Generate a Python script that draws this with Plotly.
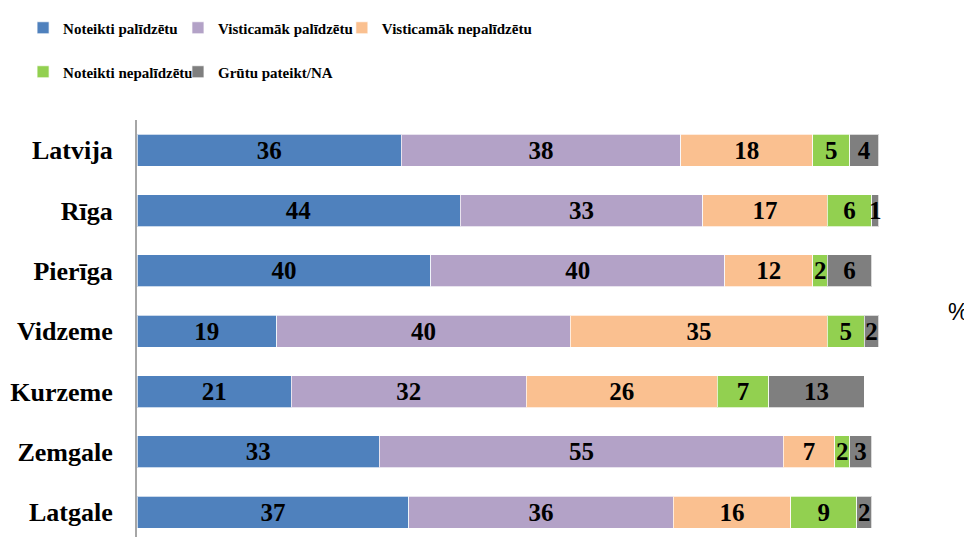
import plotly.graph_objects as go

categories = ["Latvija", "Rīga", "Pierīga", "Vidzeme", "Kurzeme", "Zemgale", "Latgale"]
series_names = ["Noteikti palīdzētu", "Visticamāk palīdzētu", "Visticamāk nepalīdzētu",
                "Noteikti nepalīdzētu", "Grūtu pateikt/NA"]
noteikti_palidzetu = [36, 44, 40, 19, 21, 33, 37]
visticamak_palidzetu = [38, 33, 40, 40, 32, 55, 36]
visticamak_nepalidzetu = [18, 17, 12, 35, 26, 7, 16]
noteikti_nepalidzetu = [5, 6, 2, 5, 7, 2, 9]
grutu_pateikt = [4, 1, 6, 2, 13, 3, 2]
series_values = [noteikti_palidzetu, visticamak_palidzetu, visticamak_nepalidzetu,
                 noteikti_nepalidzetu, grutu_pateikt]
colors = ["#4F81BD", "#B3A2C7", "#FAC090", "#92D050", "#7F7F7F"]
legend_ids = ["legend", "legend2", "legend3", "legend4", "legend5"]

FONT = "Liberation Serif"

fig = go.Figure()
for name, vals, col, lg in zip(series_names, series_values, colors, legend_ids):
    fig.add_trace(go.Bar(
        y=categories, x=vals, name=name, orientation="h",
        marker=dict(color=col, line=dict(color="rgba(255,255,255,0.7)", width=1)),
        text=[str(v) for v in vals], textposition="inside", insidetextanchor="middle",
        textangle=0, constraintext="none",
        textfont=dict(family=FONT, size=25, color="black", weight="bold"),
        legend=lg, hoverinfo="x+name",
    ))

W_PLOT = 808.5
L_MARG = 129
H_PLOT = 417
FIG_H = 529


def leg(px_left, px_mid_y):
    return dict(
        x=(px_left - L_MARG) / W_PLOT, y=(FIG_H - px_mid_y) / H_PLOT,
        orientation="h", xanchor="left", yanchor="middle",
        font=dict(family=FONT, size=15, color="black", weight="bold"),
        itemwidth=30, bgcolor="rgba(0,0,0,0)",
    )


fig.update_layout(
    width=964, height=FIG_H,
    margin=dict(l=L_MARG, r=964 - L_MARG - W_PLOT, t=112, b=0),
    paper_bgcolor="white", plot_bgcolor="white",
    barmode="stack", bargap=0.47,
    showlegend=True,
    legend=leg(15, 20),
    legend2=leg(170, 20),
    legend3=leg(334, 20),
    legend4=leg(15, 64),
    legend5=leg(170, 64),
    xaxis=dict(visible=False, range=[0, 110]),
    yaxis=dict(
        categoryorder="array", categoryarray=categories,
        range=[6.41, -0.5],
        showline=True, linecolor="#A6A6A6", linewidth=2,
        ticks="", showgrid=False, zeroline=False,
        ticklabelstandoff=17,
        tickfont=dict(family=FONT, size=26, color="black", weight="bold"),
    ),
    annotations=[dict(
        text="%", xref="paper", yref="paper",
        x=(951 - L_MARG) / W_PLOT, y=(FIG_H - 304) / H_PLOT,
        xanchor="center", yanchor="middle", showarrow=False,
        font=dict(family="Liberation Sans", size=23, color="black"),
    )],
)

fig.write_html("out.html")
